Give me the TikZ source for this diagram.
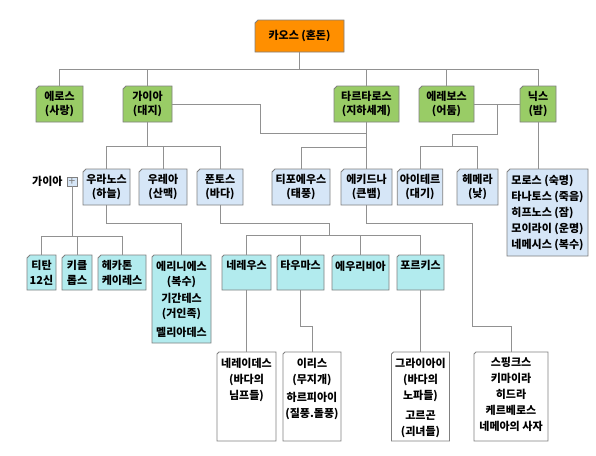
\documentclass[tikz,border=0pt]{standalone}
\usepackage{fontspec}
\setmainfont{Noto Sans CJK KR}
\usetikzlibrary{positioning, shapes.misc}

\definecolor{chaosorange}{RGB}{255,143,0}
\definecolor{godgreen}{RGB}{153,204,102}
\definecolor{kidblue}{RGB}{214,230,247}
\definecolor{seacyan}{RGB}{178,235,238}
\definecolor{edgegray}{RGB}{128,128,128}
\definecolor{wiregray}{RGB}{145,145,145}

\tikzset{
	box/.style={chamfered rectangle, chamfered rectangle corners=north west, chamfered rectangle xsep=1.5pt, chamfered rectangle ysep=1.5pt, draw=edgegray, line width=.8pt, anchor=north, inner sep=1pt, outer sep=0pt, align=center, font=\bfseries\fontsize{11}{14}\selectfont},
	wh/.style 2 args={minimum width=#1, minimum height=#2},
	chaosbox/.style={box, fill=chaosorange},
	godbox/.style={box, fill=godgreen},
	kidbox/.style={box, fill=kidblue},
	seabox/.style={box, fill=seacyan},
	beastbox/.style={box, fill=white},
	toptext/.style={anchor=north, align=center, inner sep=0pt, yshift=-5.5pt, font=\bfseries\fontsize{11}{16}\selectfont},
	plusbox/.style={rectangle, draw=edgegray, fill=kidblue, minimum width=10, minimum height=9, inner sep=0pt, text=edgegray, font=\fontsize{12}{12}\selectfont},
	wire/.style={draw=wiregray, line width=.8pt}
}

\begin{document}
\begin{tikzpicture}[x=1pt, y=-1pt]
	\fill[white] (0,0) rectangle (596,455);
	\useasboundingbox (0,0) rectangle (596,455);

	\node[chaosbox, wh={89}{32}] (chaos) at (299.5,20) {카오스 (혼돈)};

	\node[godbox, wh={47}{36}] (eros) at (59.5,86) {에로스\\(사랑)};
	\node[godbox, wh={49}{36}] (gaia) at (147.5,86) {가이아\\(대지)};
	\node[godbox, wh={65}{36}] (tartaros) at (366.5,86) {타르타로스\\(지하세계)};
	\node[godbox, wh={55}{36}] (erebos) at (446.5,86) {에레보스\\(어둠)};
	\node[godbox, wh={36}{36}] (nyx) at (538,86) {닉스\\(밤)};

	\node[kidbox, wh={47}{36}] (uranos) at (106.5,169) {우라노스\\(하늘)};
	\node[kidbox, wh={48}{36}] (ourea) at (163,169) {우레아\\(산맥)};
	\node[kidbox, wh={46}{36}] (pontos) at (220,169) {폰토스\\(바다)};
	\node[kidbox, wh={58}{36}] (typhon) at (301,169) {티포에우스\\(태풍)};
	\node[kidbox, wh={51}{36}] (echidna) at (366.5,169) {에키드나\\(큰뱀)};
	\node[kidbox, wh={44}{36}] (aither) at (420,169) {아이테르\\(대기)};
	\node[kidbox, wh={41}{36}] (hemera) at (477.5,169) {헤메라\\(낮)};
	\node[kidbox, wh={81}{87}, align=left, font=\bfseries\fontsize{11}{16}\selectfont] (nyxkids) at (547.5,169)
		{모로스 (숙명)\\타나토스 (죽음)\\히프노스 (잠)\\모이라이 (운명)\\네메시스 (복수)};

	\node[plusbox] (gaiaplus) at (72,181.5) {+};
	\node[left=4pt of gaiaplus, inner sep=0pt, font=\bfseries\fontsize{11}{12}\selectfont] (gaianame) {가이아};

	\node[seabox, wh={29}{35}, font=\bfseries\fontsize{11}{15}\selectfont] (titan) at (41.5,255) {티탄\\12신};
	\node[seabox, wh={30}{35}, font=\bfseries\fontsize{11}{15}\selectfont] (cyclops) at (77,255) {키클\\롭스};
	\node[seabox, wh={48}{35}, align=left, font=\bfseries\fontsize{11}{15}\selectfont] (hecaton) at (122,255) {헤카톤\\케이레스};
	\node[seabox, wh={59}{88}, label={[toptext, font=\bfseries\fontsize{11}{15}\selectfont]north:{에리니에스\\(복수)\\[2pt]기간테스\\(거인족)\\[4pt]멜리아데스}}] (erinyes) at (181.5,255) {};
	\node[seabox, wh={49}{35}, label={[toptext]north:네레우스}] (nereus) at (246.5,255) {};
	\node[seabox, wh={47}{35}, label={[toptext]north:타우마스}] (thaumas) at (300.5,255) {};
	\node[seabox, wh={57}{35}, label={[toptext]north:에우리비아}] (eurybia) at (360.5,255) {};
	\node[seabox, wh={47}{35}, label={[toptext]north:포르키스}] (phorcys) at (420.5,255) {};

	\node[beastbox, wh={59}{89}, label={[toptext]north:{네레이데스\\(바다의\\님프들)}}] (nereides) at (246.5,352) {};
	\node[beastbox, wh={58}{89}, label={[toptext]north:{이리스\\(무지개)\\[2pt]하르피아이\\(질풍.돌풍)}}] (iris) at (312,352) {};
	\node[beastbox, wh={58}{89}, label={[toptext]north:{그라이아이\\(바다의\\노파들)\\[4pt]고르곤\\(괴녀들)}}] (graeae) at (420.5,352) {};
	\node[beastbox, wh={74}{89}, label={[toptext]north:{스핑크스\\키마이라\\히드라\\케르베로스\\네메아의 사자}}] (sphinx) at (511,352) {};

	\draw[wire] (chaos.south) --++(0,17) coordinate (chaosbus);
	\draw[wire] (chaosbus) -| (eros.north);
	\draw[wire] (chaosbus) -| (gaia.north);
	\draw[wire] (chaosbus) -| (tartaros.north);
	\draw[wire] (chaosbus) -| (erebos.north);
	\draw[wire] (chaosbus) -| (nyx.north);

	\draw[wire] (gaia.south) --++(0,24) coordinate (gaiabus);
	\draw[wire] (gaiabus) -| (uranos.north);
	\draw[wire] (gaiabus) -| (ourea.north);
	\draw[wire] (gaiabus) -| (pontos.north);
	\draw[wire] (gaia.east) -| ++(88,29) -| (tartaros.south);

	\draw[wire] (tartaros.south) --++(0,25) coordinate (tartbus) -| (typhon.north);
	\draw[wire] (tartbus) -- (echidna.north);

	\draw[wire] (erebos.east) -- coordinate (nightmid) (nyx.west);
	\draw[wire] (nightmid) |- ++(-45,30) --++(0,12) coordinate (nightbus);
	\draw[wire] (nightbus) -| (aither.north);
	\draw[wire] (nightbus) -| (hemera.north);
	\draw[wire] (nyx.south) -- (nyx.south |- nyxkids.north);

	\draw[wire] (gaiaplus.south) --++(0,50) coordinate (titanbus);
	\draw[wire] (titanbus) -| (titan.north);
	\draw[wire] (titanbus) -| (cyclops.north);
	\draw[wire] (titanbus) -| (hecaton.north);
	\draw[wire] (uranos.south) --++(0,18) -| (erinyes.north);

	\draw[wire] (pontos.south) --++(0,18) -| ++(109,12) coordinate (seabus);
	\draw[wire] (seabus) -| (nereus.north);
	\draw[wire] (seabus) -| (thaumas.north);
	\draw[wire] (seabus) -| (eurybia.north);
	\draw[wire] (seabus) -| (phorcys.north);
	\draw[wire] (nereus.south) -- (nereides.north);
	\draw[wire] (thaumas.south) --++(0,36) -| (iris.north);
	\draw[wire] (phorcys.south) -- (graeae.north);
	\draw[wire] (echidna.south) --++(0,18) -| ++(106,103) -| (sphinx.north);
\end{tikzpicture}
\end{document}
